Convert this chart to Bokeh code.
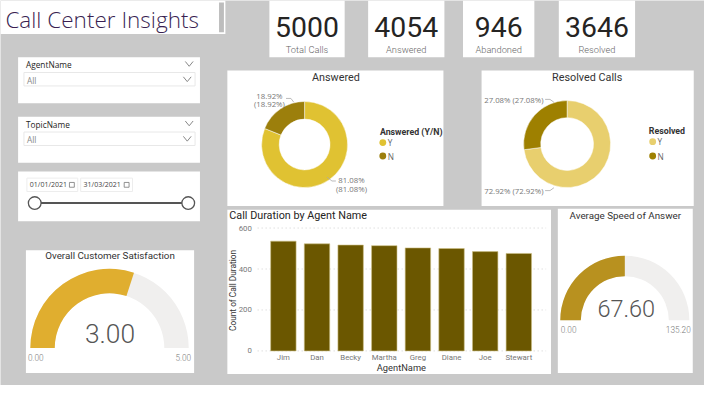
import numpy as np
from bokeh.plotting import figure
from bokeh.models import Range1d
from bokeh.core.properties import value
from bokeh.embed import file_html
from bokeh.resources import INLINE

# ---------------- data ----------------
kpi_values = [5000, 4054, 946, 3646]
kpi_labels = ["Total Calls", "Answered", "Abandoned", "Resolved"]
answered_cats = ["Y", "N"]
answered_pct = [81.08, 18.92]
resolved_cats = ["Y", "N"]
resolved_pct = [72.92, 27.08]
agents = ["Jim", "Dan", "Becky", "Martha", "Greg", "Diane", "Joe", "Stewart"]
call_counts = [536, 523, 517, 514, 503, 500, 485, 476]
bar_ticks = [0, 200, 400, 600]
csat_value, csat_min, csat_max = 3.00, 0.00, 5.00
asa_value, asa_min, asa_max = 67.60, 0.00, 135.20
date_from, date_to = "01/01/2021", "31/03/2021"

# ---------------- canvas ----------------
W, H = 720, 401
FW, FH = 704, 385
S = FW / W
BG = "#C9C9C9"

p = figure(width=FW, height=FH, x_range=Range1d(0, W), y_range=Range1d(0, H),
           output_backend="svg", toolbar_location=None, min_border=0,
           x_axis_location=None, y_axis_location=None)
p.grid.visible = False
p.outline_line_color = None
p.background_fill_color = BG
p.border_fill_color = BG

LIGHT = "Roboto Light, Roboto"


def Y(py):
    return H - py


def txt(x, y, s, size, color="#252423", align="left", baseline="middle",
        font="Open Sans", style="normal", angle=0.0, **kw):
    p.text(x=[x], y=[Y(y)], text=[s], text_font=value(font),
           text_font_size=value(f"{size * S:.1f}px"), text_color=color,
           text_align=align, text_baseline=baseline, text_font_style=style,
           angle=angle, **kw)


def box(l, r, t, b, fill="white", line=None, lw=1):
    p.quad(left=[l], right=[r], top=[Y(t)], bottom=[Y(b)], fill_color=fill,
           line_color=line, line_width=lw)


def chevron(x, y, w=4, h=2.5, color="#888888"):
    p.line(x=[x - w, x, x + w], y=[Y(y - h), Y(y + h), Y(y - h)],
           line_color=color, line_width=1)


# ---------------- panels ----------------
panels = [(0, 230, 0, 35),
          (275, 352, 0, 59), (376, 454, 0, 59), (473, 546, 0, 59), (571, 649, 0, 59),
          (18, 204, 59, 107), (18, 204, 121, 169), (18, 204, 178, 230),
          (232, 453, 73, 214), (492, 709, 73, 214),
          (232, 563, 218, 389), (570, 708, 217, 388), (26, 198, 260, 388)]
for l, r, t, b in panels:
    box(l, r, t, b)

# title
txt(5, 20, "Call Center Insights", 23, color="#3A1F52", font="Open Sans Light, Open Sans")
box(223.5, 228.5, 2, 33, fill="#BDBDBD")

# KPI cards
kpi_cx = [313.5, 415, 509.5, 610]
for cx, v, lab in zip(kpi_cx, kpi_values, kpi_labels):
    txt(cx, 28, f"{v}", 29, color="#252423", align="center", font="Roboto")
    txt(cx, 51, lab, 9.5, color="#666666", align="center", font=LIGHT)

# slicers
for top, name in [(59, "AgentName"), (121, "TopicName")]:
    txt(26, top + 8, name, 8.5, color="#252423")
    chevron(193, top + 7)
    box(24, 199, top + 16, top + 30, fill="white", line="#E8E8E8")
    txt(27, top + 24, "All", 8.5, color="#888888")
    chevron(191, top + 23)

# date slicer
for (l, r), d in zip([(27, 79), (82, 135)], [date_from, date_to]):
    box(l, r, 185, 199, fill="white", line="#EDEDED")
    txt(l + 3, 192, d, 7.2, color="#444444")
    box(r - 8.5, r - 3.5, 189.5, 194.5, fill="white", line="#777777", lw=0.8)
p.line(x=[35, 192], y=[Y(211), Y(211)], line_color="#555555", line_width=2)
p.scatter(x=[35, 192], y=[Y(211), Y(211)], size=13 * S, fill_color="white",
          line_color="#555555", line_width=1.3)


# ---------------- donuts ----------------
def donut(cx, cy, ro, ri, pcts, colors):
    fr = np.array(pcts) / 100.0
    cum = np.concatenate([[0.0], np.cumsum(fr)])
    start = np.pi / 2 - 2 * np.pi * cum[:-1]
    end = np.pi / 2 - 2 * np.pi * cum[1:]
    n = len(pcts)
    p.annular_wedge(x=[cx] * n, y=[Y(cy)] * n, inner_radius=ri, outer_radius=ro,
                    start_angle=list(start), end_angle=list(end), direction="clock",
                    fill_color=colors, line_color="white", line_width=0.5)


ans_colors = ["#E0C232", "#9C7F0C"]
res_colors = ["#E8CF6E", "#9E8000"]

# Answered
txt(343, 80, "Answered", 11, color="#333333", align="center", font="Roboto")
donut(311, 150, 44, 26, answered_pct, ans_colors)
txt(275, 99, f"{answered_pct[1]:.2f}%", 8, color="#777777", align="center")
txt(275, 107.5, f"({answered_pct[1]:.2f}%)", 8, color="#777777", align="center")
p.line(x=[292, 297, 300], y=[Y(102), Y(102), Y(106)], line_color="#AAAAAA", line_width=0.8)
txt(359, 187, f"{answered_pct[0]:.2f}%", 8, color="#777777", align="center")
txt(359, 196.5, f"({answered_pct[0]:.2f}%)", 8, color="#777777", align="center")
p.line(x=[334, 339, 343], y=[Y(184), Y(188), Y(188)], line_color="#AAAAAA", line_width=0.8)
txt(388, 137, "Answered (Y/N)", 9, color="#333333", style="bold", font="Roboto")
for yy, cat, col in zip([148, 162], answered_cats, ans_colors):
    p.scatter(x=[391], y=[Y(yy)], size=7 * S, fill_color=col, line_color=None)
    txt(396, yy, cat, 8.5, color="#666666")

# Resolved
txt(600, 80, "Resolved Calls", 11, color="#333333", align="center", font="Roboto")
donut(579.5, 149.5, 44.5, 27, resolved_pct, res_colors)
txt(525, 104, f"{resolved_pct[1]:.2f}% ({resolved_pct[1]:.2f}%)", 8, color="#777777", align="center")
p.line(x=[557, 562, 566], y=[Y(103), Y(103), Y(106)], line_color="#AAAAAA", line_width=0.8)
txt(525, 198, f"{resolved_pct[0]:.2f}% ({resolved_pct[0]:.2f}%)", 8, color="#777777", align="center")
p.line(x=[557, 562, 566], y=[Y(198), Y(198), Y(195)], line_color="#AAAAAA", line_width=0.8)
txt(663, 136, "Resolved", 9, color="#333333", style="bold", font="Roboto")
for yy, cat, col in zip([147, 162], resolved_cats, res_colors):
    p.scatter(x=[667], y=[Y(yy)], size=7 * S, fill_color=col, line_color=None)
    txt(672, yy, cat, 8.5, color="#666666")

# ---------------- bar chart ----------------
BX0, BSTEP = 289.3, 34.4          # pixel centre of first bar, spacing
BY0, BPX = 365.0, 128.0 / 600.0   # pixel of zero, pixels per unit
p.extra_x_ranges = {"bx": Range1d(-BX0 / BSTEP, (W - BX0) / BSTEP)}
p.extra_y_ranges = {"by": Range1d(-(H - BY0) / BPX, BY0 / BPX)}

txt(234, 224, "Call Duration by Agent Name", 11, color="#252423", font="Roboto")
p.segment(x0=[263] * len(bar_ticks), x1=[558] * len(bar_ticks), y0=bar_ticks, y1=bar_ticks,
          y_range_name="by", line_color="#CFCFCF", line_dash="1 3", line_width=1)
p.text(x=[257] * len(bar_ticks), y=bar_ticks, text=[str(t) for t in bar_ticks],
       y_range_name="by", text_font=value("Roboto"), text_font_size=value(f"{8 * S:.1f}px"),
       text_color="#777777", text_align="right", text_baseline="middle")
idx = list(range(len(agents)))
p.vbar(x=idx, top=call_counts, bottom=0, width=0.756, x_range_name="bx", y_range_name="by",
       fill_color="#6B5700", line_color="#CDBF85", line_width=0.6)
p.text(x=idx, y=[Y(372)] * len(agents), text=agents, x_range_name="bx",
       text_font=value("Roboto"), text_font_size=value(f"{8 * S:.1f}px"),
       text_color="#777777", text_align="center", text_baseline="middle")
txt(410, 382, "AgentName", 9.5, color="#333333", align="center", font="Roboto")
txt(238, 302, "Count of Call Duration", 8.5, color="#333333", align="center",
    font="Roboto", angle=np.pi / 2)


# ---------------- gauges ----------------
def gauge(cx, cy, ro, ri, val, vmin, vmax, color):
    frac = (val - vmin) / (vmax - vmin)
    p.annular_wedge(x=[cx], y=[Y(cy)], inner_radius=ri, outer_radius=ro,
                    start_angle=[np.pi], end_angle=[0.0], direction="clock",
                    fill_color="#F0EFEE", line_color=None)
    p.annular_wedge(x=[cx], y=[Y(cy)], inner_radius=ri, outer_radius=ro,
                    start_angle=[np.pi], end_angle=[np.pi - frac * np.pi], direction="clock",
                    fill_color=color, line_color=None)


txt(112, 266, "Overall Customer Satisfaction", 10, color="#333333", align="center", font="Roboto")
gauge(111.5, 362, 81, 56, csat_value, csat_min, csat_max, "#E0AE2F")
txt(112, 347, f"{csat_value:.2f}", 27, color="#555555", align="center", font=LIGHT)
txt(28, 372, f"{csat_min:.2f}", 8.5, color="#777777", font=LIGHT)
txt(195, 372, f"{csat_max:.2f}", 8.5, color="#777777", align="right", font=LIGHT)

txt(639, 224, "Average Speed of Answer", 10, color="#333333", align="center", font="Roboto")
gauge(638.5, 333, 66, 45, asa_value, asa_min, asa_max, "#B8911F")
txt(640, 321, f"{asa_value:.2f}", 24, color="#555555", align="center", font=LIGHT)
txt(573, 343, f"{asa_min:.2f}", 8.5, color="#777777", font=LIGHT)
txt(706, 343, f"{asa_max:.2f}", 8.5, color="#777777", align="right", font=LIGHT)

open("out.html", "w").write(file_html(p, INLINE))
